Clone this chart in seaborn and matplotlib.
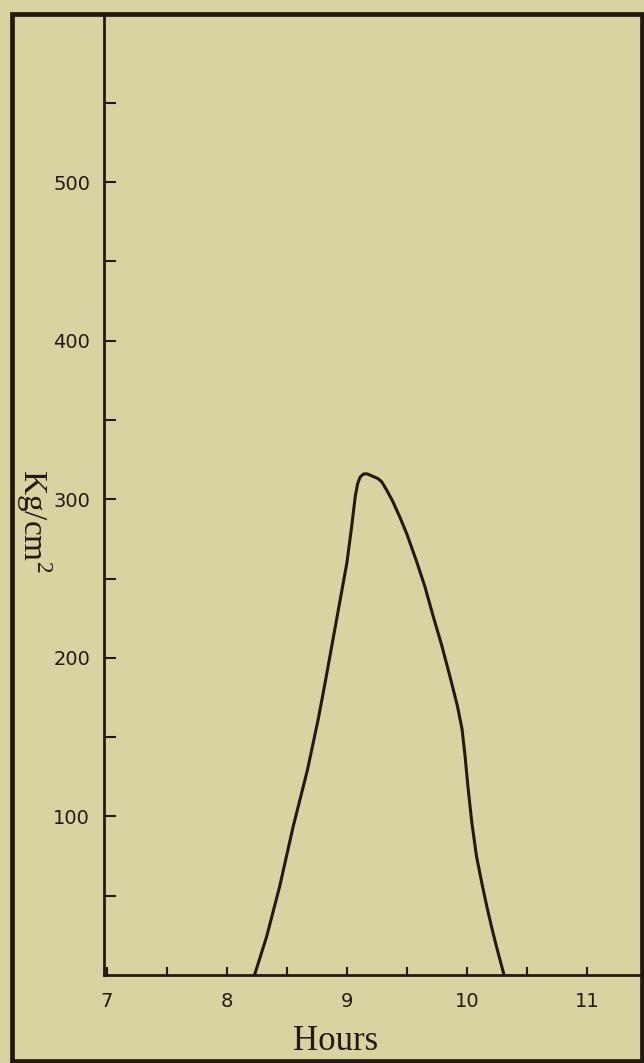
import matplotlib
matplotlib.use("Agg")
import matplotlib.pyplot as plt
from matplotlib.patches import Rectangle
import seaborn as sns

# Data (hours, kg/cm2)
hours = [8.23, 8.33, 8.44, 8.55, 8.67, 8.76, 8.82, 8.88, 8.94, 9.00,
         9.04, 9.07, 9.09, 9.11, 9.14, 9.17, 9.20, 9.23, 9.26, 9.29,
         9.33, 9.38, 9.44, 9.50, 9.58, 9.65, 9.72, 9.79, 9.86, 9.92,
         9.96, 9.985, 10.01, 10.04, 10.08, 10.13, 10.17, 10.21, 10.25, 10.31]
pressure = [0, 24, 56, 93, 129, 161, 185, 210, 235, 260,
            283, 302, 310, 314, 316, 316, 315, 314, 313, 311,
            306, 299, 289, 278, 261, 245, 226, 208, 188, 170,
            155, 138, 118, 97, 75, 56, 42, 29, 17, 0]

y_major = [100, 200, 300, 400, 500]
y_minor = [50, 150, 250, 350, 450, 550]
x_major = [7, 8, 9, 10, 11]
x_minor = [7.5, 8.5, 9.5, 10.5]

bg = "#d9d3a2"
ink = "#221a12"

sns.set_style("ticks")
plt.rcParams["font.family"] = ["DejaVu Sans"]

fig = plt.figure(figsize=(6.44, 10.63), dpi=100, facecolor=bg)
ax = fig.add_axes([104 / 644, 88 / 1063, 538 / 644, 961 / 1063])
ax.set_facecolor(bg)

sns.lineplot(x=hours, y=pressure, sort=False, estimator=None,
             color=ink, linewidth=2.2, ax=ax)

ax.set_xlim(6.975, 11.46)
ax.set_ylim(0, 606)

ax.set_xticks(x_major)
ax.set_xticks(x_minor, minor=True)
ax.set_xticklabels([str(v) for v in x_major])
ax.set_yticks(y_major)
ax.set_yticks(y_minor, minor=True)
ax.set_yticklabels([str(v) for v in y_major])

ax.tick_params(axis="y", which="both", direction="in", length=8.5, width=1.5,
               color=ink, labelcolor=ink, labelsize=14, pad=10)
ax.tick_params(axis="x", which="both", direction="in", length=6, width=1.5,
               color=ink, labelcolor=ink, labelsize=14, pad=12)

for side in ["top", "right"]:
    ax.spines[side].set_visible(False)
for side in ["left", "bottom"]:
    ax.spines[side].set_color(ink)
    ax.spines[side].set_linewidth(2)

ax.set_xlabel("Hours", fontsize=25, family="Liberation Serif", color=ink)
ax.xaxis.set_label_coords(0.43, -0.052)
ax.set_ylabel("Kg/cm$^{\\mathregular{2}}$", fontsize=24, family="Liberation Serif",
              color=ink, rotation=-90, ha="center", va="center")
ax.yaxis.set_label_coords(-0.131, 0.473)

# outer frame of the figure
frame = Rectangle((12 / 644, 2 / 1063), 630 / 644, 1047 / 1063,
                  transform=fig.transFigure, fill=False,
                  edgecolor=ink, linewidth=3.4)
fig.patches.append(frame)

fig.savefig("out.png", dpi=100, facecolor=bg)
